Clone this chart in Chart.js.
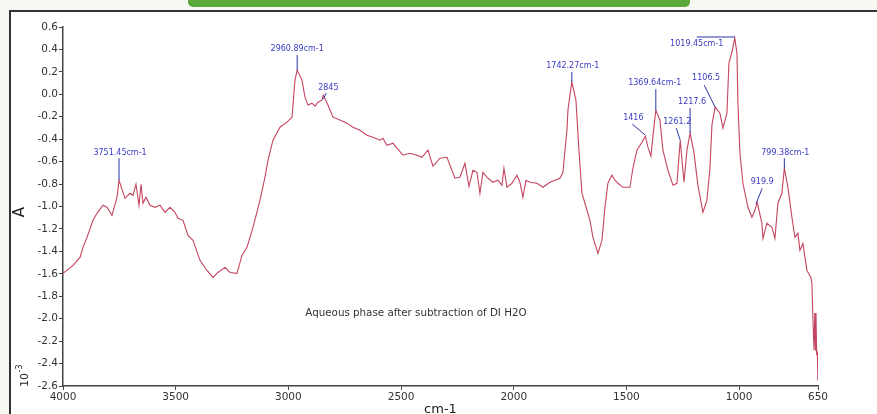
<!DOCTYPE html>
<html>
<head>
<meta charset="utf-8">
<script src="https://cdn.jsdelivr.net/npm/chart.js@4.4.1/dist/chart.umd.min.js"></script>
<style>
  html, body { margin: 0; padding: 0; }
  body { width: 877px; height: 414px; overflow: hidden; position: relative; background: #f6f8f1; }
  #topbar { position: absolute; left: 188px; top: 0; width: 502px; height: 7px; background: #5aa83a; border-radius: 0 0 5px 5px; }
  #frame { position: absolute; left: 9px; top: 10px; width: 900px; height: 420px; background: #ffffff;
           border-top: 2px solid #333; border-left: 2px solid #333; }
  #spectrum { position: absolute; left: 0; top: 0; }
</style>
</head>
<body>
<div id="frame"></div>
<div id="topbar"></div>
<canvas id="spectrum" width="877" height="414"></canvas>
<script>
// FTIR spectrum: wavenumber (cm-1) and absorbance (x10^-3)
const wavenumbers = [
  4000, 3955.6, 3924.6, 3911.3, 3893.5, 3866.9, 3849.1, 3822.5, 3804.8, 3782.6,
  3760.4, 3751.45, 3724.8, 3702.7, 3689.4, 3676.1, 3662.8, 3653.9, 3645.1, 3631.8,
  3614.0, 3591.8, 3569.6, 3547.5, 3525.3, 3503.1, 3489.8, 3467.6, 3445.4, 3423.2,
  3392.2, 3361.1, 3334.5, 3312.3, 3281.3, 3259.1, 3228.0, 3205.8, 3183.7, 3157.0,
  3126.0, 3103.8, 3090.5, 3068.3, 3037.3, 3006.2, 2984.0, 2970.7, 2960.89, 2939.7,
  2926.3, 2913.0, 2895.3, 2882.0, 2868.7, 2850.9, 2845, 2824.3, 2802.1, 2771.1,
  2740.0, 2713.4, 2682.3, 2651.3, 2624.7, 2593.6, 2580.3, 2562.5, 2535.9, 2518.2,
  2491.6, 2460.5, 2429.4, 2407.3, 2380.6, 2358.5, 2327.4, 2296.4, 2260.9, 2238.7,
  2216.5, 2198.8, 2181.0, 2163.3, 2150.0, 2136.6, 2114.5, 2092.3, 2070.1, 2052.4,
  2043.5, 2030.2, 2008.0, 1985.8, 1972.5, 1959.2, 1945.9, 1928.1, 1897.1, 1870.4,
  1839.4, 1817.2, 1795.0, 1781.7, 1772.8, 1763.9, 1759.5, 1750.6, 1742.27, 1724.1,
  1710.7, 1697.4, 1684.1, 1661.9, 1648.6, 1626.4, 1608.7, 1595.4, 1582.1, 1564.3,
  1551.0, 1537.7, 1515.5, 1484.5, 1471.2, 1453.4, 1431.2, 1416, 1404.6, 1391.3,
  1382.4, 1369.64, 1351.3, 1338.0, 1315.8, 1293.6, 1275.9, 1261.2, 1244.7, 1231.4,
  1217.6, 1200.5, 1182.8, 1160.6, 1142.9, 1129.5, 1120.7, 1106.5, 1085.2, 1071.8,
  1054.1, 1045.2, 1031.9, 1019.45, 1009.7, 1005.3, 996.4, 983.1, 960.9, 943.2,
  929.9, 919.9, 898.8, 894.4, 876.6, 854.4, 841.1, 827.8, 810.1, 799.38,
  783.5, 765.7, 752.4, 739.1, 730.2, 716.9, 699.2, 681.4, 677, 668,
  664, 661, 659, 656, 653, 650.3
];
const absorbance = [
  -1.596, -1.525, -1.454, -1.364, -1.275, -1.123, -1.061, -0.989, -1.007, -1.079,
  -0.918, -0.766, -0.927, -0.882, -0.900, -0.802, -0.989, -0.802, -0.971, -0.918,
  -0.989, -1.007, -0.989, -1.052, -1.007, -1.052, -1.105, -1.123, -1.257, -1.302,
  -1.480, -1.570, -1.632, -1.588, -1.543, -1.588, -1.596, -1.436, -1.364, -1.186,
  -0.945, -0.739, -0.588, -0.409, -0.293, -0.248, -0.204, 0.127, 0.216, 0.127,
  -0.025, -0.096, -0.079, -0.105, -0.070, -0.052, -0.007, -0.096, -0.204, -0.230,
  -0.257, -0.293, -0.320, -0.364, -0.382, -0.409, -0.391, -0.454, -0.436, -0.480,
  -0.543, -0.525, -0.543, -0.561, -0.498, -0.641, -0.570, -0.561, -0.748, -0.739,
  -0.614, -0.820, -0.677, -0.695, -0.882, -0.695, -0.748, -0.784, -0.766, -0.811,
  -0.659, -0.829, -0.793, -0.721, -0.784, -0.918, -0.766, -0.784, -0.793, -0.829,
  -0.784, -0.766, -0.748, -0.695, -0.498, -0.320, -0.141, -0.007, 0.109, -0.052,
  -0.498, -0.882, -0.971, -1.123, -1.275, -1.418, -1.302, -1.007, -0.793, -0.721,
  -0.766, -0.793, -0.829, -0.829, -0.659, -0.498, -0.427, -0.373, -0.471, -0.552,
  -0.373, -0.141, -0.230, -0.498, -0.677, -0.811, -0.793, -0.409, -0.784, -0.498,
  -0.346, -0.516, -0.811, -1.052, -0.945, -0.659, -0.275, -0.114, -0.168, -0.302,
  -0.168, 0.279, 0.377, 0.502, 0.368, -0.079, -0.525, -0.793, -1.007, -1.096,
  -1.034, -0.963, -1.150, -1.284, -1.150, -1.186, -1.284, -0.971, -0.882, -0.659,
  -0.829, -1.096, -1.275, -1.239, -1.391, -1.329, -1.570, -1.632, -1.690, -2.280,
  -1.950, -2.280, -1.950, -2.310, -2.300, -2.552
];

const xTickValues = [4000, 3500, 3000, 2500, 2000, 1500, 1000, 650];
const yTickValues = [-2.6, -2.4, -2.2, -2.0, -1.8, -1.6, -1.4, -1.2, -1.0, -0.8, -0.6,
                     -0.4, -0.2, 0.0, 0.2, 0.4, 0.6];

// Peak annotations: label text and the wavenumber each one marks
const peakLabels = ['3751.45cm-1', '2960.89cm-1', '2845', '1742.27cm-1', '1416', '1369.64cm-1',
                    '1261.2', '1217.6', '1106.5', '1019.45cm-1', '919.9', '799.38cm-1'];
const peakWavenumbers = [3751.45, 2960.89, 2845, 1742.27, 1416, 1369.64,
                         1261.2, 1217.6, 1106.5, 1019.45, 919.9, 799.38];

const sampleNote = 'Aqueous phase after subtraction of DI H2O';

// label placement relative to the peak: text centre (tx,ty), leader start (ax,ay) and end (bx,by)
const peakLayout = [
  { tx: 1,   ty: -27, ax: 0,   ay: -22, bx: 0,  by: 0 },
  { tx: 0,   ty: -21, ax: 0,   ay: -15, bx: 0,  by: 0 },
  { tx: 5,   ty: -7,  ax: 3,   ay: -2,  bx: 0,  by: 4 },
  { tx: 1,   ty: -16, ax: 0,   ay: -10, bx: 0,  by: 0 },
  { tx: -12, ty: -18, ax: -13, ay: -12, bx: 0,  by: -1 },
  { tx: -1,  ty: -27, ax: 0,   ay: -21, bx: 0,  by: 0 },
  { tx: -3,  ty: -18, ax: -4,  ay: -12, bx: 0,  by: 0 },
  { tx: 2,   ty: -31, ax: 0,   ay: -25, bx: 0,  by: 0 },
  { tx: -9,  ty: -29, ax: -11, ay: -22, bx: 0,  by: 0 },
  { tx: -38, ty: 6,   ax: -38, ay: -1,  bx: 0,  by: -1 },
  { tx: 5,   ty: -20, ax: 5,   ay: -14, bx: -1, by: 1 },
  { tx: 1,   ty: -15, ax: 0,   ay: -10, bx: 0,  by: 0 }
];

const points = wavenumbers.map((w, i) => ({ x: w, y: absorbance[i] }));
const FONT = '"DejaVu Sans", "Liberation Sans", Arial, sans-serif';

const peakAnnotations = {
  id: 'peakAnnotations',
  afterDatasetsDraw(chart) {
    const { ctx, scales: { x, y } } = chart;
    ctx.save();
    ctx.font = '8px ' + FONT;
    ctx.textAlign = 'center';
    ctx.textBaseline = 'middle';
    peakWavenumbers.forEach((w, i) => {
      const idx = wavenumbers.indexOf(w);
      const px = x.getPixelForValue(w);
      const py = y.getPixelForValue(absorbance[idx]);
      const L = peakLayout[i];
      ctx.strokeStyle = '#2a36a6';
      ctx.lineWidth = 1;
      ctx.beginPath();
      ctx.moveTo(px + L.ax, py + L.ay);
      ctx.lineTo(px + L.bx, py + L.by);
      ctx.stroke();
      ctx.fillStyle = '#3b3bc4';
      ctx.fillText(peakLabels[i], px + L.tx, py + L.ty);
    });
    // sample description inside the plot
    ctx.fillStyle = '#333';
    ctx.font = '10.3px ' + FONT;
    ctx.fillText(sampleNote, x.getPixelForValue(2434), y.getPixelForValue(-1.95));
    ctx.restore();
  }
};

const axisTitles = {
  id: 'axisTitles',
  afterDraw(chart) {
    const { ctx, chartArea } = chart;
    ctx.save();
    ctx.fillStyle = '#222';
    // x title
    ctx.font = '13px ' + FONT;
    ctx.textAlign = 'center';
    ctx.textBaseline = 'top';
    ctx.fillText('cm-1', (chartArea.left + chartArea.right) / 2, 403);
    // y title "A"
    ctx.save();
    ctx.translate(20, 212);
    ctx.rotate(-Math.PI / 2);
    ctx.font = '15px ' + FONT;
    ctx.textBaseline = 'middle';
    ctx.fillText('A', 0, 0);
    ctx.restore();
    // exponent "10-3"
    ctx.save();
    ctx.translate(28, 387);
    ctx.rotate(-Math.PI / 2);
    ctx.textAlign = 'left';
    ctx.textBaseline = 'alphabetic';
    ctx.font = '11px ' + FONT;
    ctx.fillText('10', 0, 0);
    const w10 = ctx.measureText('10').width;
    ctx.font = '8px ' + FONT;
    ctx.fillText('-3', w10 + 0.5, -6);
    ctx.restore();
    ctx.restore();
  }
};

new Chart(document.getElementById('spectrum'), {
  type: 'line',
  data: {
    datasets: [{
      data: points,
      borderColor: '#c4455f',
      borderWidth: 1.1,
      pointRadius: 0,
      tension: 0,
      fill: false
    }]
  },
  options: {
    responsive: false,
    animation: false,
    events: [],
    layout: { padding: { top: 27, right: 59, bottom: 0, left: 0 } },
    plugins: { legend: { display: false }, tooltip: { enabled: false } },
    scales: {
      x: {
        type: 'linear',
        reverse: true,
        min: 650,
        max: 4000,
        afterBuildTicks: (s) => { s.ticks = xTickValues.map(v => ({ value: v })); },
        afterFit: (s) => { s.height = 28; },
        border: { display: true, color: '#444', width: 1.5 },
        grid: { display: true, drawOnChartArea: false, drawTicks: true, tickLength: 4, color: '#444' },
        ticks: {
          autoSkip: false, maxRotation: 0, padding: 1,
          color: '#333', font: { family: FONT, size: 10.5 },
          callback: (v) => String(v)
        }
      },
      y: {
        type: 'linear',
        min: -2.6,
        max: 0.6,
        afterBuildTicks: (s) => { s.ticks = yTickValues.map(v => ({ value: v })); },
        afterFit: (s) => { s.width = 63; },
        border: { display: true, color: '#444', width: 1.5 },
        grid: { display: true, drawOnChartArea: false, drawTicks: true, tickLength: 4, color: '#444' },
        ticks: {
          padding: 1,
          color: '#333', font: { family: FONT, size: 10.5 },
          callback: (v) => Number(v).toFixed(1)
        }
      }
    }
  },
  plugins: [peakAnnotations, axisTitles]
});
</script>
</body>
</html>
